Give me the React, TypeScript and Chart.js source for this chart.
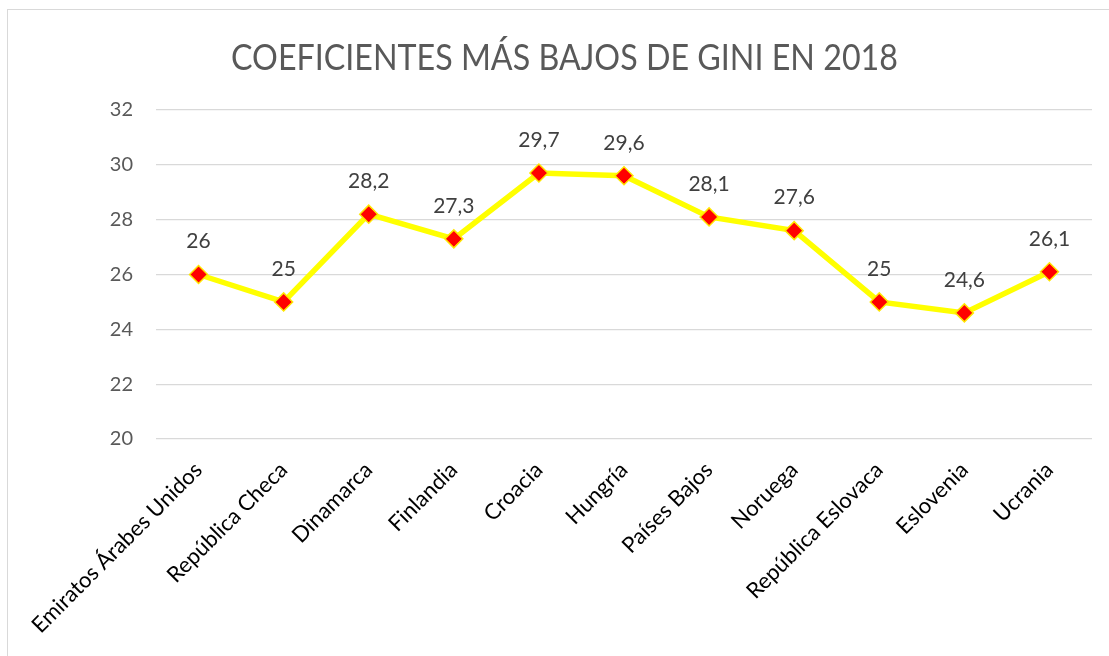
import React, { useEffect, useRef } from "react";
import { Chart, registerables } from "chart.js";

Chart.register(...registerables);

const TITLE = "COEFICIENTES MÁS BAJOS DE GINI EN 2018";
const categories = [
  "Emiratos Árabes Unidos",
  "República Checa",
  "Dinamarca",
  "Finlandia",
  "Croacia",
  "Hungría",
  "Países Bajos",
  "Noruega",
  "República Eslovaca",
  "Eslovenia",
  "Ucrania",
];
const giniValues = [26, 25, 28.2, 27.3, 29.7, 29.6, 28.1, 27.6, 25, 24.6, 26.1];
const yMin = 20;
const yMax = 32;
const yStep = 2;

const fmt = (v: number) => String(v).replace(".", ",");

const titlePlugin = {
  id: "scaledTitle",
  afterDraw(chart: any) {
    const ctx = chart.ctx;
    ctx.save();
    ctx.font = "37px Lato";
    ctx.fillStyle = "#595959";
    ctx.textBaseline = "alphabetic";
    ctx.textAlign = "center";
    const w = ctx.measureText(TITLE).width;
    const target = 667;
    const sx = target / w;
    ctx.translate(556.5, 59.5);
    ctx.scale(sx, 1);
    ctx.fillText(TITLE, 0, 0);
    ctx.restore();
  },
};

const dataLabelPlugin = {
  id: "dataLabels",
  afterDatasetsDraw(chart: any) {
    const ctx = chart.ctx;
    const meta = chart.getDatasetMeta(0);
    const data = chart.data.datasets[0].data as number[];
    ctx.save();
    ctx.font = "21px Lato";
    ctx.fillStyle = "#404040";
    ctx.textAlign = "center";
    ctx.textBaseline = "middle";
    meta.data.forEach((pt: any, i: number) => {
      ctx.fillText(fmt(data[i]), pt.x, pt.y - 33);
    });
    ctx.restore();
  },
};

export default function App() {
  const ref = useRef<HTMLCanvasElement | null>(null);
  useEffect(() => {
    if (!ref.current) return;
    const chart = new Chart(ref.current, {
      type: "line",
      data: {
        labels: categories,
        datasets: [
          {
            data: giniValues,
            borderColor: "#FFFF00",
            borderWidth: 5.5,
            pointStyle: "rectRot",
            pointRadius: 9,
            pointBackgroundColor: "#FF0000",
            pointBorderColor: "#FFE600",
            pointBorderWidth: 1.5,
            tension: 0,
          },
        ],
      },
      options: {
        animation: false,
        responsive: false,
        maintainAspectRatio: false,
        layout: {
          autoPadding: false,
          padding: { top: 100, left: 0, right: 17, bottom: 0 },
        },
        plugins: {
          legend: { display: false },
          title: { display: false },
          tooltip: { enabled: false },
        },
        scales: {
          x: {
            offset: true,
            grid: { display: false, drawTicks: false },
            border: { display: false },
            ticks: {
              autoSkip: false,
              minRotation: 45,
              maxRotation: 45,
              padding: 18,
              color: "#000000",
              font: { family: "Lato", size: 22 },
            },
            afterFit: (s: any) => {
              s.height = 217;
            },
          },
          y: {
            min: yMin,
            max: yMax,
            grid: { color: "#d9d9d9", lineWidth: 1.3, drawTicks: false },
            border: { display: false },
            ticks: {
              stepSize: yStep,
              padding: 23,
              color: "#595959",
              font: { family: "Lato", size: 20 },
            },
            afterFit: (s: any) => {
              s.width = 148;
            },
          },
        },
      },
      plugins: [titlePlugin, dataLabelPlugin],
    });
    return () => chart.destroy();
  }, []);

  return (
    <div
      style={{
        position: "fixed",
        left: 0,
        top: 0,
        width: 1109,
        height: 656,
        background: "#ffffff",
        overflow: "hidden",
      }}
    >
      <div
        style={{
          position: "absolute",
          left: 7,
          top: 9,
          width: 1120,
          height: 670,
          border: "1px solid #d9d9d9",
          boxSizing: "border-box",
        }}
      />
      <canvas
        ref={ref}
        width={1101}
        height={646}
        style={{ position: "absolute", left: 8, top: 10, width: 1101, height: 646 }}
      />
    </div>
  );
}
